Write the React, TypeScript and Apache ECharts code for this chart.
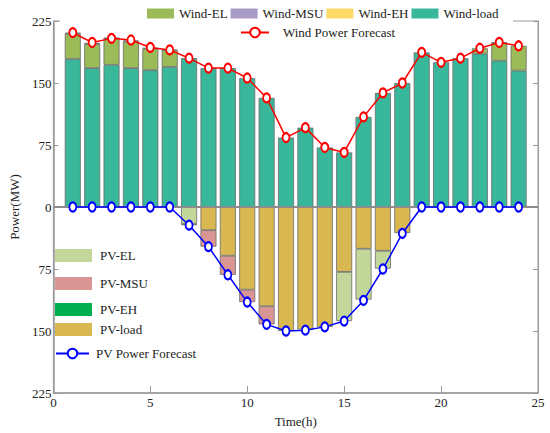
import React, { useEffect, useRef } from "react";
import * as echarts from "echarts";

const categories = ["0", "1", "2", "3", "4", "5", "6", "7", "8", "9", "10", "11", "12", "13", "14", "15", "16", "17", "18", "19", "20", "21", "22", "23", "24", "25"];
const hours = [1, 2, 3, 4, 5, 6, 7, 8, 9, 10, 11, 12, 13, 14, 15, 16, 17, 18, 19, 20, 21, 22, 23, 24];
const xTickStep = 5;
const yTicks = [-225, -150, -75, 0, 75, 150, 225];

const windForecast = [211, 199, 204, 202, 193, 190, 180, 168, 168, 156, 132, 84, 96, 72, 66, 109, 138, 150, 187, 175, 180, 192, 199, 195];
const windLoad = [179, 168, 172, 168, 165.5, 169.5, 180, 168, 168, 156, 132, 84, 96, 72, 66, 109, 138, 150, 187, 175, 180, 185.5, 177, 165];
const windEL = [30.5, 29, 32, 32, 26, 20, 0, 0, 0, 0, 0, 0, 0, 0, 0, 0, 0, 0, 0, 0, 0, 6.5, 21.5, 30];
const windMSU = [1.5, 1.5, 0.5, 1.5, 1, 0.5, 0, 0, 0, 0, 0, 0, 0, 0, 0, 0, 0, 0, 0, 0, 0, 0, 0.5, 0];
const windEH = [0, 0, 0, 0, 0, 0, 0, 0, 0, 0, 0, 0, 0, 0, 0, 0, 0, 0, 0, 0, 0, 0, 0, 0];

const pvForecast = [0, 0, 0, 0, 0, 0, 22, 48, 82, 115, 142, 150, 149, 145, 138, 113, 75, 32, 0, 0, 0, 0, 0, 0];
const pvLoad = [0, 0, 0, 0, 0, 0, 0, 28, 59, 100, 120, 150, 148, 145, 78.5, 50.5, 53, 31.5, 0, 0, 0, 0, 0, 0];
const pvMSU = [0, 0, 0, 0, 0, 0, 0, 20, 23, 15, 22, 0, 0, 0, 0, 0, 0, 0, 0, 0, 0, 0, 0, 0];
const pvEL = [0, 0, 0, 0, 0, 0, 20.5, 0, 0, 0, 0, 0, 0, 0, 59.5, 61.5, 21.5, 0, 0, 0, 0, 0, 0, 0];
const pvEH = [0, 0, 0, 0, 0, 0, 1.5, 0, 0, 0, 0, 0, 0, 0, 0, 0, 0, 0, 0, 0, 0, 0, 0, 0];

const FONT = "Liberation Serif, Times New Roman, serif";
const RED = "#ff0000";
const BLUE = "#0000ff";

function barPairs(vals: number[], sign: number) {
  return hours.map((h, i) => (vals[i] ? [String(h), sign * vals[i]] : [String(h), "-"]));
}
function linePairs(vals: number[], sign: number) {
  return hours.map((h, i) => [String(h), sign * vals[i]]);
}

export default function App() {
  const ref = useRef<HTMLDivElement>(null);
  useEffect(() => {
    document.body.style.margin = "0";
    const chart = echarts.init(ref.current!, null, { renderer: "svg" });
    const border = { borderColor: "#6b6b6b", borderWidth: 0.8 };
    const mkBar = (name: string, vals: number[], sign: number, color: string) => ({
      type: "bar",
      stack: "all",
      barWidth: 16,
      name,
      data: barPairs(vals, sign),
      itemStyle: { ...border, color },
    });
    const txt = { fontFamily: FONT, fontSize: 13, color: "#222" };
    const pvLegend = (name: string, top: number) => ({
      data: [name],
      left: 55,
      top,
      padding: 0,
      orient: "vertical",
      itemWidth: 37,
      itemHeight: 13,
      icon: "rect",
      itemStyle: { borderWidth: 0 },
      textStyle: { ...txt, padding: [0, 0, 0, 3] },
    });
    const option = {
      animation: false,
      textStyle: { fontFamily: FONT },
      grid: { left: 37, right: 12, top: 21, bottom: 36, show: true, borderColor: "#999", borderWidth: 1 },
      graphic: [
        { type: "rect", z: 3, shape: { x: 60, y: 15, width: 453, height: 12 }, style: { fill: "#fff" } },
      ],
      legend: [
        {
          data: ["Wind-EL", "Wind-MSU", "Wind-EH", "Wind-load"],
          left: 147,
          top: 7,
          padding: 0,
          itemWidth: 27,
          itemHeight: 10,
          itemGap: 3,
          icon: "rect",
          itemStyle: { borderWidth: 0 },
          textStyle: txt,
        },
        {
          data: ["Wind Power Forecast"],
          left: 240,
          top: 26,
          padding: 0,
          itemWidth: 28,
          itemHeight: 12,
          textStyle: { ...txt, padding: [0, 0, 0, 9] },
        },
        pvLegend("PV-EL", 249),
        pvLegend("PV-MSU", 277),
        pvLegend("PV-EH", 303),
        pvLegend("PV-load", 323),
        {
          data: ["PV Power Forecast"],
          left: 55,
          top: 347,
          padding: 0,
          itemWidth: 33,
          itemHeight: 12,
          textStyle: { ...txt, padding: [0, 0, 0, 2] },
        },
      ],
      xAxis: [
        {
          type: "category",
          data: categories,
          boundaryGap: false,
          name: "Time(h)",
          nameLocation: "middle",
          nameGap: 22,
          nameTextStyle: txt,
          axisLine: { show: true, onZero: false, lineStyle: { color: "#999", width: 1.5 } },
          axisTick: {
            show: true,
            inside: true,
            length: 7,
            interval: (i: number) => i % xTickStep === 0,
            lineStyle: { color: "#999" },
          },
          axisLabel: { ...txt, margin: 3, interval: (i: number) => i % xTickStep === 0 },
          splitLine: { show: false },
        },
      ],
      yAxis: [
        {
          type: "value",
          min: yTicks[0],
          max: yTicks[yTicks.length - 1],
          interval: 75,
          name: "Power(MW)",
          nameLocation: "middle",
          nameGap: 21,
          nameTextStyle: txt,
          axisLine: { show: true, lineStyle: { color: "#999", width: 1.5 } },
          axisTick: { show: true, inside: true, length: 5, lineStyle: { color: "#999" } },
          axisLabel: { ...txt, margin: 2, formatter: (v: number) => String(Math.abs(v)) },
          splitLine: { show: false },
        },
        {
          type: "value",
          position: "right",
          min: yTicks[0],
          max: yTicks[yTicks.length - 1],
          interval: 75,
          axisLine: { show: true, lineStyle: { color: "#999" } },
          axisTick: { show: true, inside: true, length: 5, lineStyle: { color: "#999" } },
          axisLabel: { show: false },
          splitLine: { show: false },
        },
      ],
      series: [
        {
          ...mkBar("Wind-load", windLoad, 1, "#38b79b"),
          markLine: {
            silent: true,
            symbol: "none",
            label: { show: false },
            lineStyle: { color: "#8c8c8c", width: 2, type: "solid" },
            data: [{ yAxis: 0 }],
          },
        },
        mkBar("Wind-EL", windEL, 1, "#9bbb59"),
        mkBar("Wind-MSU", windMSU, 1, "#a99bc8"),
        mkBar("Wind-EH", windEH, 1, "#ffd966"),
        mkBar("PV-load", pvLoad, -1, "#d9b852"),
        mkBar("PV-MSU", pvMSU, -1, "#da9694"),
        mkBar("PV-EL", pvEL, -1, "#c4d79b"),
        mkBar("PV-EH", pvEH, -1, "#00b050"),
        {
          name: "Wind Power Forecast",
          type: "line",
          z: 5,
          data: linePairs(windForecast, 1),
          symbol: "emptyCircle",
          symbolSize: [7, 9],
          itemStyle: { color: RED, borderColor: RED, borderWidth: 1.5 },
          lineStyle: { color: RED, width: 1.5 },
        },
        {
          name: "PV Power Forecast",
          type: "line",
          z: 5,
          data: linePairs(pvForecast, -1),
          symbol: "emptyCircle",
          symbolSize: [7, 9],
          itemStyle: { color: BLUE, borderColor: BLUE, borderWidth: 1.5 },
          lineStyle: { color: BLUE, width: 1.5 },
        },
      ],
    };
    chart.setOption(option as any);
    return () => chart.dispose();
  }, []);
  return <div ref={ref} style={{ width: 550, height: 433 }} />;
}
